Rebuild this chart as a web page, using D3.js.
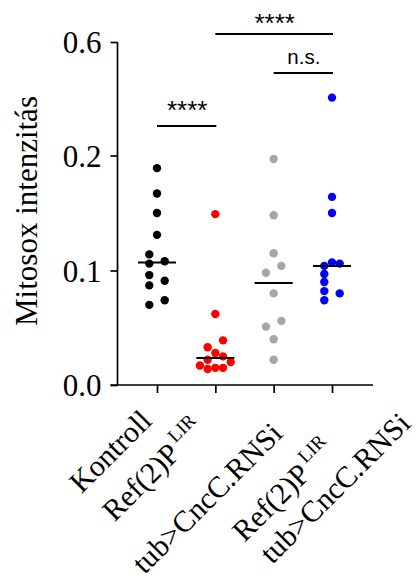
<!DOCTYPE html>
<html>
<head>
<meta charset="utf-8">
<script src="https://cdn.jsdelivr.net/npm/d3@7/dist/d3.min.js"></script>
<style>
  html, body { margin: 0; padding: 0; background: #fff; }
  svg { display: block; }
</style>
</head>
<body>
<svg id="chart" width="416" height="578"></svg>
<script>
// ---------- data ----------
const categories = ["Kontroll", "Ref(2)P LIR", "tub>CncC.RNSi", "Ref(2)P LIR tub>CncC.RNSi"];
const kontroll   = [0.189, 0.167, 0.150, 0.131, 0.114, 0.108, 0.106, 0.096, 0.091, 0.087, 0.074, 0.070];
const ref2pLir   = [0.149, 0.062, 0.039, 0.033, 0.028, 0.025, 0.022, 0.020, 0.017, 0.015, 0.015, 0.014];
const cncRnsi    = [0.197, 0.148, 0.115, 0.104, 0.098, 0.080, 0.056, 0.051, 0.040, 0.022];
const ref2pCnc   = [0.404, 0.164, 0.150, 0.107, 0.106, 0.104, 0.097, 0.090, 0.082, 0.080, 0.074];
const seriesValues = [kontroll, ref2pLir, cncRnsi, ref2pCnc];
const seriesColors = ["#000000", "#ff0000", "#a6a6a6", "#0000ff"];
const yTickValues = [0.0, 0.1, 0.2, 0.6];
const yTickLabels = ["0.0", "0.1", "0.2", "0.6"];
const labelLine1 = ["Kontroll", "Ref(2)P", "tub>CncC.RNSi", "Ref(2)P"];
const labelSup1  = ["", "LIR", "", "LIR"];
const labelLine2 = ["", "", "", "tub>CncC.RNSi"];
const yTitle = "Mitosox intenzitás";
// significance brackets
const sigFrom  = [0, 1, 2];
const sigTo    = [1, 3, 3];
const sigText  = ["****", "****", "n.s."];

// ---------- layout ----------
const svg = d3.select("#chart");
const serif = "'Liberation Serif', 'Times New Roman', serif";
const sans = "'Liberation Sans', Arial, Helvetica, sans-serif";

const y = d3.scaleLinear()
  .domain(yTickValues)
  .range([385, 270.5, 155.5, 42]);
const x = d3.scalePoint()
  .domain(categories)
  .range([157, 332]);

const axisX0 = 117.5, axisY0 = 385;

// Y axis
const yAxis = d3.axisLeft(y).tickValues(yTickValues)
  .tickFormat((d, i) => yTickLabels[i]).tickSize(7).tickSizeOuter(0).tickPadding(9);
const gy = svg.append("g").attr("transform", `translate(${axisX0},0)`).call(yAxis);
gy.select(".domain").attr("stroke", "#000").attr("stroke-width", 1.7)
  .attr("d", `M0,${y(0.6)}V${axisY0}`);
gy.selectAll(".tick line").attr("stroke", "#000").attr("stroke-width", 1.7);
gy.selectAll(".tick text").attr("font-family", serif).attr("font-size", 31)
  .attr("fill", "#000").attr("dy", "0.34em");

// X axis
const xAxis = d3.axisBottom(x).tickSize(8).tickSizeOuter(0).tickFormat("");
const gx = svg.append("g").attr("transform", `translate(0,${axisY0})`).call(xAxis);
gx.select(".domain").attr("stroke", "#000").attr("stroke-width", 1.7)
  .attr("d", `M${axisX0 - 7},0H373`);
gx.selectAll(".tick line").attr("stroke", "#000").attr("stroke-width", 1.7);

// X labels (rotated -45deg); placement in the rotated frame of each tick
const lblSize = 30;
const lblEnd  = [-29, -39, -28, -44];   // end of first line (along text direction)
const lblBase = [24, 26, 43, 50];       // baseline of first line (perpendicular)
const lblLine2Gap = 35;
categories.forEach((c, i) => {
  const g = svg.append("g")
    .attr("transform", `translate(${x(c)},${axisY0}) rotate(-45)`);
  const t1 = g.append("text")
    .attr("font-family", serif).attr("font-size", lblSize).attr("fill", "#000")
    .attr("text-anchor", "end").attr("x", lblEnd[i]).attr("y", lblBase[i]);
  t1.append("tspan").text(labelLine1[i]);
  if (labelSup1[i]) {
    t1.append("tspan").attr("font-size", 19).attr("dx", 4).attr("dy", -13).text(labelSup1[i]);
  }
  if (labelLine2[i]) {
    const w1 = t1.node().getComputedTextLength();
    g.append("text")
      .attr("font-family", serif).attr("font-size", lblSize).attr("fill", "#000")
      .attr("text-anchor", "start").attr("x", lblEnd[i] - w1).attr("y", lblBase[i] + lblLine2Gap)
      .text(labelLine2[i]);
  }
});

// Y title
svg.append("text")
  .attr("transform", `translate(37,211) rotate(-90)`)
  .attr("text-anchor", "middle")
  .attr("font-family", serif).attr("font-size", 31).attr("fill", "#000")
  .text(yTitle);

// ---------- dots (simple swarm) ----------
const r = 4.2, lane = 7.7;
function swarm(vals) {
  const pts = vals.map(v => ({ v, py: y(v), dx: 0 })).sort((a, b) => b.py - a.py);
  const clusters = [];
  let cur = [pts[0]];
  for (let i = 1; i < pts.length; i++) {
    if (cur[cur.length - 1].py - pts[i].py < 8.5) cur.push(pts[i]);
    else { clusters.push(cur); cur = [pts[i]]; }
  }
  clusters.push(cur);
  const order = [-1, 1, 0, -2, 2, -3, 3];
  clusters.forEach(cl => {
    if (cl.length === 1) { cl[0].dx = 0; return; }
    const placed = [];
    cl.forEach(p => {
      for (const k of order) {
        const dx = k * lane;
        if (placed.every(q => Math.hypot(q.dx - dx, q.py - p.py) >= 7.6)) { p.dx = dx; break; }
      }
      placed.push(p);
    });
  });
  return pts;
}

categories.forEach((c, i) => {
  const pts = swarm(seriesValues[i]);
  svg.append("g").selectAll("circle").data(pts).join("circle")
    .attr("cx", d => x(c) + d.dx)
    .attr("cy", d => d.py)
    .attr("r", r)
    .attr("fill", seriesColors[i]);
  const med = d3.median(seriesValues[i]);
  svg.append("line")
    .attr("x1", x(c) - 19).attr("x2", x(c) + 19)
    .attr("y1", y(med)).attr("y2", y(med))
    .attr("stroke", "#000").attr("stroke-width", 2);
});

// ---------- significance brackets ----------
const sigLineY = [126, 34, 73];
const sigTextY = [119, 32, 63.5];
sigText.forEach((s, i) => {
  const x1 = x(categories[sigFrom[i]]), x2 = x(categories[sigTo[i]]);
  svg.append("line")
    .attr("x1", x1).attr("x2", x2 + 1)
    .attr("y1", sigLineY[i]).attr("y2", sigLineY[i])
    .attr("stroke", "#000").attr("stroke-width", 2);
  svg.append("text")
    .attr("x", (x1 + x2) / 2 + 1).attr("y", sigTextY[i])
    .attr("text-anchor", "middle")
    .attr("font-family", sans)
    .attr("font-size", s === "n.s." ? 20.5 : 26)
    .attr("fill", "#000")
    .text(s);
});
</script>
</body>
</html>
